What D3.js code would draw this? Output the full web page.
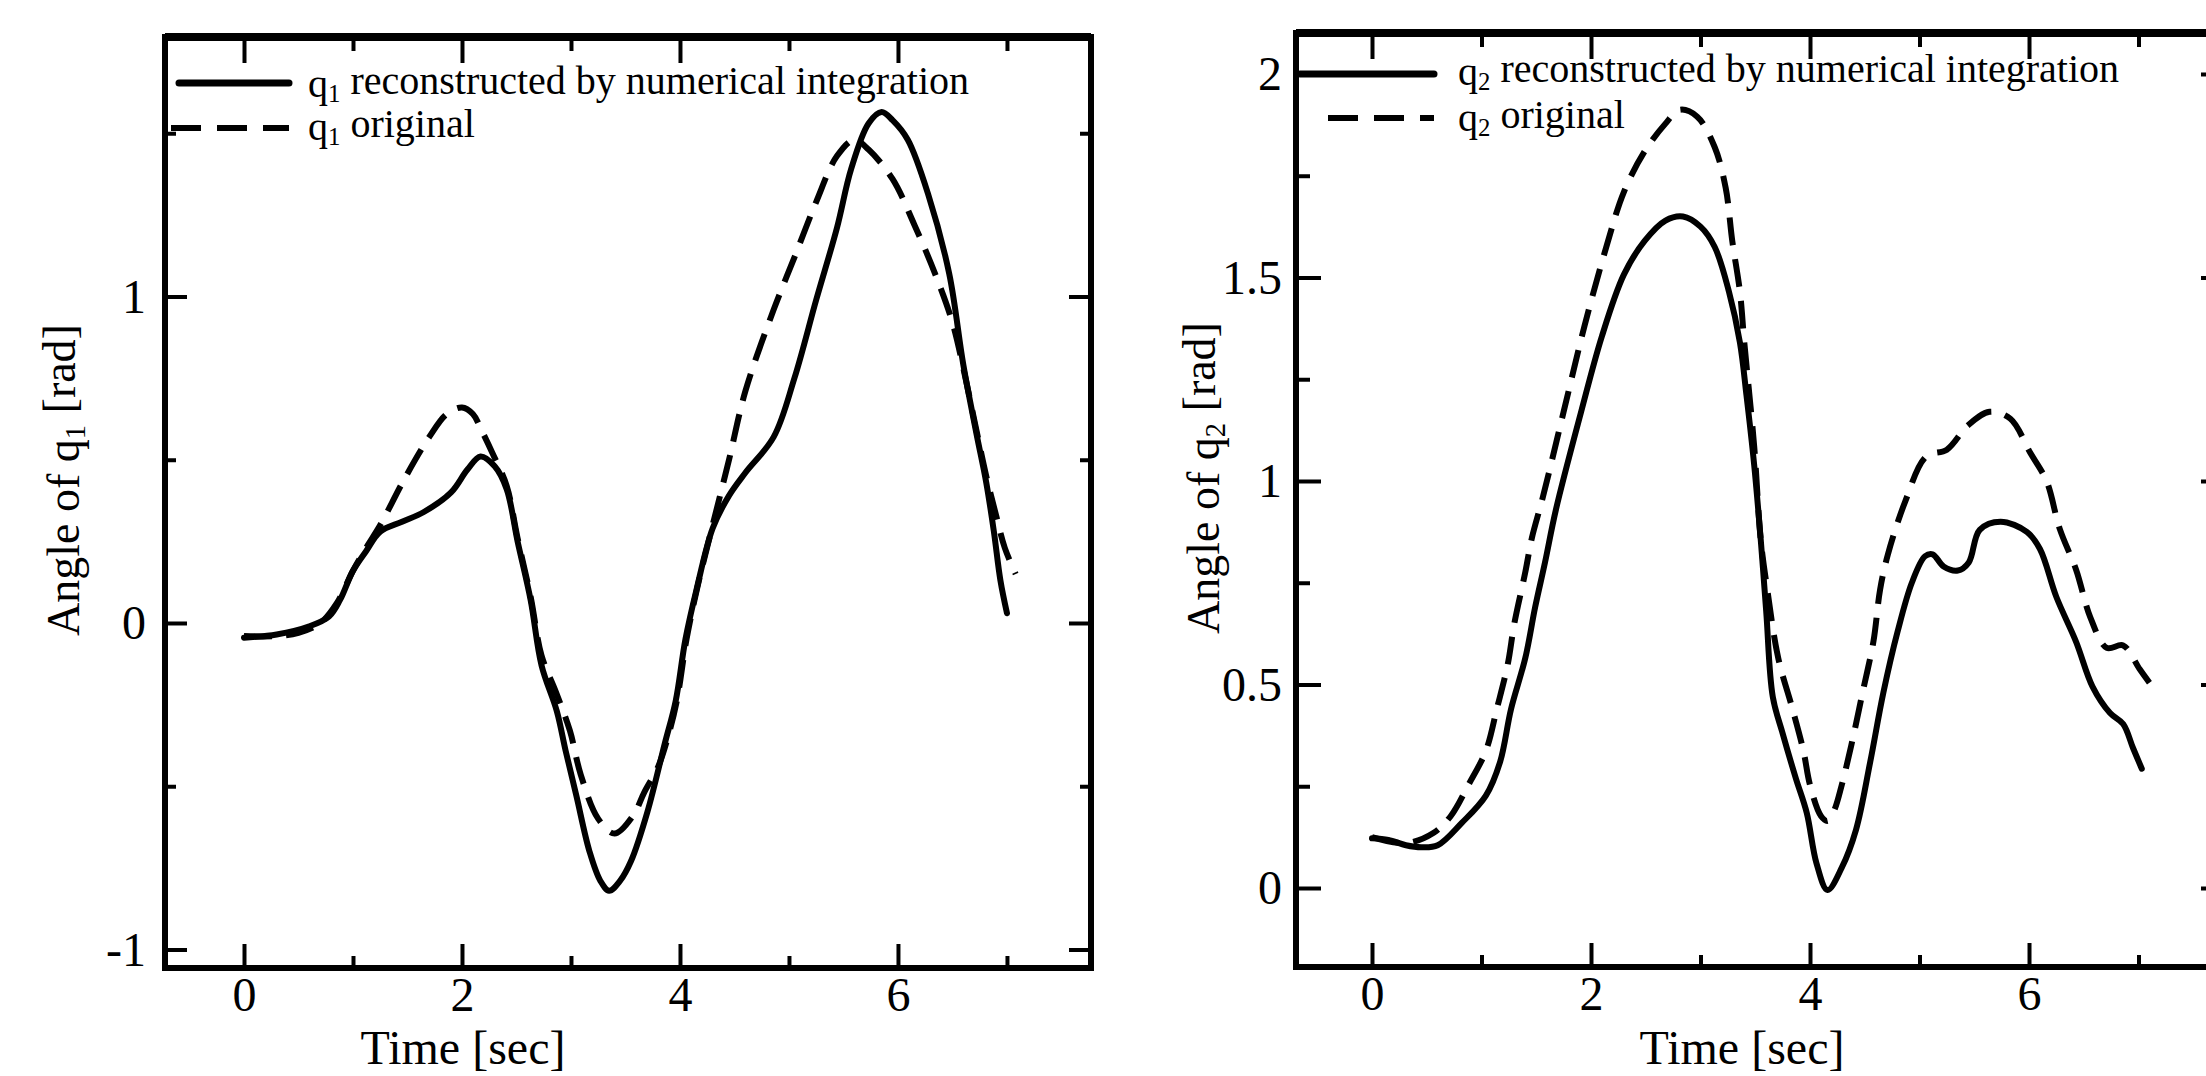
<!DOCTYPE html>
<html><head><meta charset="utf-8">
<script src="https://cdn.jsdelivr.net/npm/d3@7"></script>
<style>html,body{margin:0;padding:0;background:#fff;} svg{display:block;}</style>
</head><body>
<svg id="chart" width="2206" height="1076"></svg>
<script>
// ---------- data ----------
const timeMajorTicks = [0, 2, 4, 6];
const timeMinorTicks = [1, 3, 5, 7];
const timeTickLabels = ["0", "2", "4", "6"];
const timeAxisTitle = "Time [sec]";

const q1MajorTicks = [-1, 0, 1];
const q1MinorTicks = [-0.5, 0.5, 1.5];
const q1TickLabels = ["-1", "0", "1"];

const q2MajorTicks = [0, 0.5, 1, 1.5, 2];
const q2MinorTicks = [0.25, 0.75, 1.25, 1.75];
const q2TickLabels = ["0", "0.5", "1", "1.5", "2"];

const q1ReconTime  = [0, 0.3, 0.6, 0.78, 0.88, 1.0, 1.12, 1.25, 1.45, 1.65, 1.9, 2.05, 2.17, 2.3, 2.41, 2.51, 2.63, 2.73, 2.87, 2.95, 3.05, 3.17, 3.27, 3.35, 3.45, 3.55, 3.7, 3.86, 3.96, 4.05, 4.15, 4.3, 4.45, 4.6, 4.86, 5.05, 5.25, 5.44, 5.57, 5.73, 5.85, 5.95, 6.09, 6.28, 6.47, 6.6, 6.72, 6.81, 6.88, 6.94, 7.0];
const q1ReconAngle = [-0.045, -0.035, -0.01, 0.02, 0.07, 0.16, 0.22, 0.28, 0.31, 0.34, 0.4, 0.47, 0.51, 0.48, 0.41, 0.25, 0.07, -0.13, -0.27, -0.39, -0.53, -0.7, -0.79, -0.82, -0.79, -0.73, -0.58, -0.37, -0.24, -0.05, 0.1, 0.29, 0.39, 0.46, 0.57, 0.75, 0.99, 1.21, 1.39, 1.53, 1.565, 1.54, 1.48, 1.31, 1.07, 0.79, 0.58, 0.43, 0.28, 0.13, 0.03];

const q1OrigTime  = [0, 0.3, 0.5, 0.7, 0.85, 1.0, 1.12, 1.25, 1.47, 1.7, 1.86, 2.0, 2.1, 2.18, 2.28, 2.41, 2.51, 2.63, 2.73, 2.86, 2.99, 3.09, 3.25, 3.4, 3.57, 3.67, 3.8, 3.88, 3.97, 4.06, 4.16, 4.3, 4.45, 4.6, 4.86, 5.05, 5.25, 5.44, 5.6, 5.73, 5.95, 6.15, 6.34, 6.5, 6.6, 6.72, 6.81, 6.9, 6.98, 7.08];
const q1OrigAngle = [-0.04, -0.04, -0.03, 0.0, 0.06, 0.16, 0.23, 0.3, 0.44, 0.57, 0.64, 0.66, 0.64, 0.59, 0.52, 0.42, 0.26, 0.08, -0.1, -0.21, -0.33, -0.465, -0.6, -0.645, -0.59, -0.52, -0.44, -0.36, -0.24, -0.05, 0.11, 0.3, 0.5, 0.71, 0.96, 1.12, 1.29, 1.43, 1.48, 1.45, 1.36, 1.22, 1.07, 0.92, 0.78, 0.59, 0.45, 0.33, 0.23, 0.15];

const q2ReconTime  = [0, 0.15, 0.31, 0.45, 0.6, 0.82, 1.04, 1.17, 1.27, 1.4, 1.49, 1.58, 1.68, 1.91, 2.1, 2.3, 2.49, 2.68, 2.84, 3.0, 3.13, 3.26, 3.36, 3.42, 3.49, 3.55, 3.6, 3.66, 3.75, 3.87, 3.97, 4.06, 4.16, 4.29, 4.42, 4.55, 4.67, 4.8, 4.93, 5.05, 5.12, 5.22, 5.35, 5.45, 5.55, 5.74, 5.98, 6.1, 6.25, 6.43, 6.58, 6.74, 6.86, 6.95, 7.03];
const q2ReconAngle = [0.122, 0.118, 0.105, 0.1, 0.105, 0.16, 0.227, 0.31, 0.44, 0.565, 0.69, 0.8, 0.93, 1.17, 1.356, 1.507, 1.59, 1.64, 1.65, 1.625, 1.575, 1.465, 1.34, 1.21, 1.04, 0.856, 0.68, 0.47, 0.38, 0.27, 0.185, 0.06, -0.005, 0.05, 0.143, 0.31, 0.48, 0.63, 0.75, 0.815, 0.82, 0.79, 0.78, 0.8, 0.88, 0.9, 0.875, 0.833, 0.715, 0.605, 0.495, 0.43, 0.403, 0.344, 0.293];

const q2OrigTime  = [0, 0.31, 0.56, 0.72, 0.88, 1.04, 1.14, 1.24, 1.3, 1.4, 1.46, 1.56, 1.75, 1.94, 2.14, 2.3, 2.49, 2.68, 2.81, 2.97, 3.13, 3.23, 3.29, 3.36, 3.4, 3.49, 3.55, 3.61, 3.71, 3.84, 3.94, 4.0, 4.1, 4.16, 4.22, 4.29, 4.38, 4.48, 4.58, 4.64, 4.71, 4.87, 5.06, 5.25, 5.44, 5.64, 5.83, 6.01, 6.16, 6.28, 6.43, 6.56, 6.71, 6.86, 7.01, 7.1];
const q2OrigAngle = [0.125, 0.11, 0.135, 0.177, 0.253, 0.337, 0.44, 0.55, 0.65, 0.776, 0.86, 0.96, 1.17, 1.38, 1.575, 1.71, 1.81, 1.878, 1.912, 1.895, 1.82, 1.72, 1.59, 1.465, 1.34, 1.086, 0.856, 0.733, 0.565, 0.44, 0.337, 0.253, 0.177, 0.165, 0.19, 0.253, 0.354, 0.48, 0.607, 0.733, 0.818, 0.95, 1.06, 1.077, 1.136, 1.17, 1.153, 1.07, 1.0, 0.883, 0.782, 0.665, 0.59, 0.596, 0.538, 0.504];

// ---------- layout ----------
const FONT = "'Liberation Serif','Times New Roman',serif";
const svg = d3.select("#chart");

const panels = [
  {
    xDomain: [-0.7248, 7.771], xRange: [165, 1091],
    yDomain: [-1.0567, 1.7948], yRange: [968, 37],
    yMajor: q1MajorTicks, yMinor: q1MinorTicks, yLabels: q1TickLabels, yPad: 19,
    sub: "1",
    recon: {t: q1ReconTime, v: q1ReconAngle},
    orig: {t: q1OrigTime, v: q1OrigAngle},
    xTitle: [463, 1064], yTitle: [79, 480],
    legend: {solid: [179, 289, 83], dashed: [171, 289, 128], textX: 308, base1: 97, base2: 140, dashOffset: 0},
    yMajorLen: 22, yMinorLen: 11
  },
  {
    xDomain: [-0.694, 7.799], xRange: [1296, 2226],
    yDomain: [-0.1941, 2.1007], yRange: [967, 33],
    yMajor: q2MajorTicks, yMinor: q2MinorTicks, yLabels: q2TickLabels, yPad: 14,
    sub: "2",
    recon: {t: q2ReconTime, v: q2ReconAngle},
    orig: {t: q2OrigTime, v: q2OrigAngle},
    xTitle: [1742, 1064], yTitle: [1219, 478],
    legend: {solid: [1300, 1434, 74], dashed: [1328, 1434, 118], textX: 1458, base1: 85, base2: 131, dashOffset: 0},
    yMajorLen: 25, yMinorLen: 14
  }
];

function styleAxis(g, showText) {
  g.select(".domain").remove();
  g.selectAll(".tick line").attr("stroke", "#000").attr("stroke-width", 4);
  if (showText) {
    g.selectAll(".tick text").attr("fill", "#000").style("font-family", FONT).style("font-size", "48px");
  } else {
    g.selectAll(".tick text").remove();
  }
}

function qLabel(textSel, sub, rest) {
  textSel.append("tspan").text("q");
  textSel.append("tspan").attr("font-size", "0.62em").attr("dy", "0.22em").text(sub);
  textSel.append("tspan").attr("dy", "-0.22em").text(rest);
}

panels.forEach(p => {
  const x = d3.scaleLinear().domain(p.xDomain).range(p.xRange);
  const y = d3.scaleLinear().domain(p.yDomain).range(p.yRange);
  const [x0, x1] = p.xRange;
  const [yb, yt] = p.yRange;
  const g = svg.append("g");

  // bottom axis
  g.append("g").attr("transform", `translate(0,${yb})`)
    .call(d3.axisBottom(x).tickValues(timeMajorTicks).tickFormat((d, i) => timeTickLabels[i]).tickSizeInner(-24).tickSizeOuter(0).tickPadding(9))
    .call(a => styleAxis(a, true));
  g.append("g").attr("transform", `translate(0,${yb})`)
    .call(d3.axisBottom(x).tickValues(timeMinorTicks).tickSizeInner(-12).tickSizeOuter(0))
    .call(a => styleAxis(a, false));
  // top axis
  g.append("g").attr("transform", `translate(0,${yt})`)
    .call(d3.axisTop(x).tickValues(timeMajorTicks).tickSizeInner(-26).tickSizeOuter(0))
    .call(a => styleAxis(a, false));
  g.append("g").attr("transform", `translate(0,${yt})`)
    .call(d3.axisTop(x).tickValues(timeMinorTicks).tickSizeInner(-14).tickSizeOuter(0))
    .call(a => styleAxis(a, false));
  // left axis
  g.append("g").attr("transform", `translate(${x0},0)`)
    .call(d3.axisLeft(y).tickValues(p.yMajor).tickFormat((d, i) => p.yLabels[i]).tickSizeInner(-p.yMajorLen).tickSizeOuter(0).tickPadding(p.yPad))
    .call(a => styleAxis(a, true))
    .call(a => a.selectAll(".tick text").attr("dy", "0.33em"));
  g.append("g").attr("transform", `translate(${x0},0)`)
    .call(d3.axisLeft(y).tickValues(p.yMinor).tickSizeInner(-p.yMinorLen).tickSizeOuter(0))
    .call(a => styleAxis(a, false));
  // right axis
  g.append("g").attr("transform", `translate(${x1},0)`)
    .call(d3.axisRight(y).tickValues(p.yMajor).tickSizeInner(-p.yMajorLen).tickSizeOuter(0))
    .call(a => styleAxis(a, false));
  g.append("g").attr("transform", `translate(${x1},0)`)
    .call(d3.axisRight(y).tickValues(p.yMinor).tickSizeInner(-p.yMinorLen).tickSizeOuter(0))
    .call(a => styleAxis(a, false));

  // frame
  g.append("rect").attr("x", x0).attr("y", yt).attr("width", x1 - x0).attr("height", yb - yt)
    .attr("fill", "none").attr("stroke", "#000").attr("stroke-width", 6);
  g.append("line").attr("x1", x0).attr("x2", x1).attr("y1", yt).attr("y2", yt)
    .attr("stroke", "#000").attr("stroke-width", 8);

  // curves
  const line = d3.line().x(d => x(d[0])).y(d => y(d[1])).curve(d3.curveCatmullRom.alpha(0.5));
  const reconPts = p.recon.t.map((t, i) => [t, p.recon.v[i]]);
  const origPts = p.orig.t.map((t, i) => [t, p.orig.v[i]]);
  g.append("path").attr("d", line(origPts)).attr("fill", "none").attr("stroke", "#000")
    .attr("stroke-width", 6).attr("stroke-dasharray", "28,14").attr("stroke-linecap", "butt");
  g.append("path").attr("d", line(reconPts)).attr("fill", "none").attr("stroke", "#000")
    .attr("stroke-width", 6).attr("stroke-linejoin", "round").attr("stroke-linecap", "round");

  // legend
  const L = p.legend;
  g.append("line").attr("x1", L.solid[0]).attr("x2", L.solid[1]).attr("y1", L.solid[2]).attr("y2", L.solid[2])
    .attr("stroke", "#000").attr("stroke-width", 7).attr("stroke-linecap", "round");
  g.append("line").attr("x1", L.dashed[0]).attr("x2", L.dashed[1]).attr("y1", L.dashed[2]).attr("y2", L.dashed[2])
    .attr("stroke", "#000").attr("stroke-width", 6).attr("stroke-dasharray", "30,16");
  const t1 = g.append("text").attr("x", L.textX).attr("y", L.base1)
    .style("font-family", FONT).style("font-size", "40px").attr("fill", "#000");
  qLabel(t1, p.sub, " reconstructed by numerical integration");
  const t2 = g.append("text").attr("x", L.textX).attr("y", L.base2)
    .style("font-family", FONT).style("font-size", "40px").attr("fill", "#000");
  qLabel(t2, p.sub, " original");

  // axis titles
  g.append("text").attr("x", p.xTitle[0]).attr("y", p.xTitle[1]).attr("text-anchor", "middle")
    .style("font-family", FONT).style("font-size", "48px").attr("fill", "#000").text(timeAxisTitle);
  const yt1 = g.append("text").attr("transform", `translate(${p.yTitle[0]},${p.yTitle[1]}) rotate(-90)`)
    .attr("text-anchor", "middle").style("font-family", FONT).style("font-size", "46px").attr("fill", "#000");
  yt1.append("tspan").text("Angle of q");
  yt1.append("tspan").attr("font-size", "0.62em").attr("dy", "0.22em").text(p.sub);
  yt1.append("tspan").attr("dy", "-0.22em").text(" [rad]");
});
</script>
</body></html>
